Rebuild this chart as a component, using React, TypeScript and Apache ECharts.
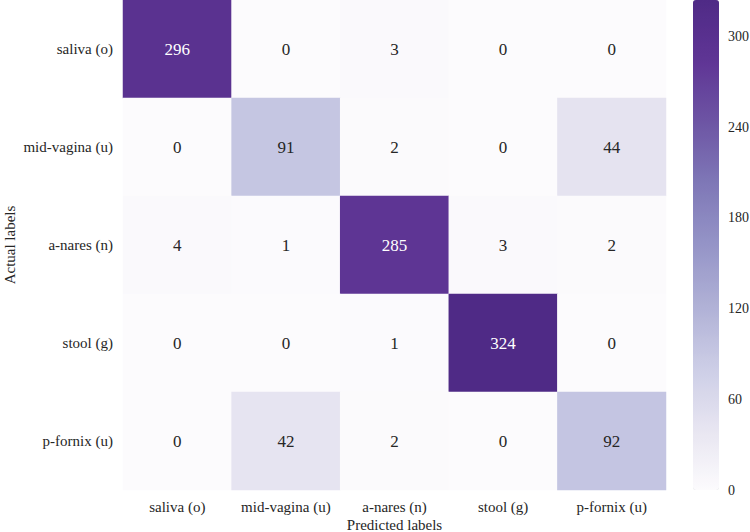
import React, { useEffect, useRef } from "react";
import * as echarts from "echarts";

const predictedLabels = ["saliva (o)", "mid-vagina (u)", "a-nares (n)", "stool (g)", "p-fornix (u)"];
const actualLabels = ["saliva (o)", "mid-vagina (u)", "a-nares (n)", "stool (g)", "p-fornix (u)"];

const rowSaliva = [296, 0, 3, 0, 0];
const rowMidVagina = [0, 91, 2, 0, 44];
const rowANares = [4, 1, 285, 3, 2];
const rowStool = [0, 0, 1, 324, 0];
const rowPFornix = [0, 42, 2, 0, 92];

const matrixRows = [rowSaliva, rowMidVagina, rowANares, rowStool, rowPFornix];

const colorMin = 0;
const colorMax = 324;
const colorbarTickInterval = 60;

const purples = [
  "#fcfbfd",
  "#e7e5f1",
  "#cccde6",
  "#b0b1d6",
  "#9594c7",
  "#7f78b7",
  "#6d55a4",
  "#5f3595",
  "#4f2a86",
];

const FONT = "'Liberation Serif', 'DejaVu Serif', serif";

export default function App() {
  const ref = useRef<HTMLDivElement>(null);

  useEffect(() => {
    if (!ref.current) return;
    const chart = echarts.init(ref.current, undefined, { renderer: "svg" });

    const data: any[] = [];
    matrixRows.forEach((row, r) => {
      row.forEach((v, c) => {
        data.push({
          value: [c, r, v],
          label: { color: v > 200 ? "#ffffff" : "#262626" },
        });
      });
    });

    chart.setOption({
      animation: false,
      backgroundColor: "#ffffff",
      textStyle: { fontFamily: FONT },
      grid: [
        { left: 123, top: 0, width: 543, height: 490, outerBoundsMode: "none", containLabel: false },
        { left: 693, top: 0, width: 26, height: 490, outerBoundsMode: "none", containLabel: false },
      ],
      xAxis: [
        {
          type: "category",
          gridIndex: 0,
          data: predictedLabels,
          position: "bottom",
          axisLine: { show: false },
          axisTick: { show: false },
          splitLine: { show: false },
          axisLabel: { fontFamily: FONT, fontSize: 15, color: "#262626", margin: 9, interval: 0 },
          name: "Predicted labels",
          nameLocation: "middle",
          nameMoveOverlap: false,
          nameGap: 27,
          nameTextStyle: { fontFamily: FONT, fontSize: 15, color: "#262626" },
        },
        {
          type: "value",
          gridIndex: 1,
          show: false,
          min: 0,
          max: 1,
        },
      ],
      yAxis: [
        {
          type: "category",
          gridIndex: 0,
          data: actualLabels,
          inverse: true,
          axisLine: { show: false },
          axisTick: { show: false },
          splitLine: { show: false },
          axisLabel: { fontFamily: FONT, fontSize: 15, color: "#262626", margin: 10, interval: 0 },
          name: "Actual labels",
          nameLocation: "middle",
          nameMoveOverlap: false,
          nameGap: 106,
          nameRotate: 90,
          nameTextStyle: { fontFamily: FONT, fontSize: 15, color: "#262626" },
        },
        {
          type: "value",
          gridIndex: 1,
          position: "right",
          min: colorMin,
          max: colorMax,
          interval: colorbarTickInterval,
          axisLine: { show: false },
          axisTick: { show: false },
          splitLine: { show: false },
          axisLabel: {
            fontFamily: FONT,
            fontSize: 14,
            color: "#262626",
            margin: 9,
            showMaxLabel: false,
          },
        },
      ],
      visualMap: {
        type: "continuous",
        seriesIndex: 0,
        min: colorMin,
        max: colorMax,
        calculable: false,
        orient: "vertical",
        left: 693,
        top: 0,
        padding: 0,
        itemWidth: 26,
        itemHeight: 490,
        inRange: { color: purples },
        textStyle: { color: "transparent" },
      },
      series: [
        {
          type: "heatmap",
          xAxisIndex: 0,
          yAxisIndex: 0,
          data,
          label: {
            show: true,
            fontFamily: FONT,
            fontSize: 17,
            formatter: (p: any) => String(p.value[2]),
          },
          itemStyle: { borderWidth: 0 },
          emphasis: { disabled: true },
        },
        {
          type: "line",
          xAxisIndex: 1,
          yAxisIndex: 1,
          data: [],
          silent: true,
        },
      ],
    });

    return () => chart.dispose();
  }, []);

  return (
    <div
      ref={ref}
      style={{ width: 750, height: 532, position: "absolute", left: 0, top: 0 }}
    />
  );
}
